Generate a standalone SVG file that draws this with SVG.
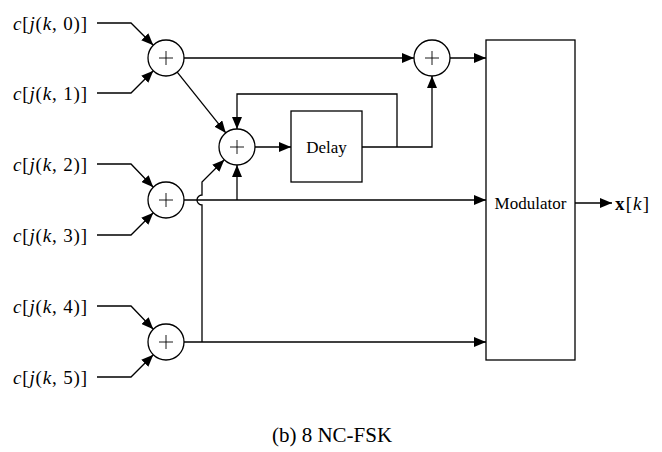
<svg xmlns="http://www.w3.org/2000/svg" width="662" height="452" viewBox="0 0 662 452">
<style>
.w{fill:none;stroke:#000;stroke-width:1.3}
.n{fill:#fff;stroke:#000;stroke-width:1.3}
.p{fill:none;stroke:#000;stroke-width:0.9}
.m{font-family:"Liberation Serif",serif;font-size:19px;fill:#000}
.i{font-style:italic}
.t{font-family:"Liberation Serif",serif;font-size:17px;fill:#000}
.c{font-family:"Liberation Serif",serif;font-size:21px;fill:#000}
</style>
<defs>
<marker id="a" markerUnits="userSpaceOnUse" markerWidth="12" markerHeight="10" refX="12" refY="5" orient="auto">
<path d="M0,0 L12,5 L0,10 z" fill="#000"/>
</marker>
</defs>
<g id="labels">
<text class="m" x="13" y="30" textLength="74" lengthAdjust="spacing"><tspan class="i">c</tspan>[<tspan class="i">j</tspan>(<tspan class="i">k</tspan>, 0)]</text>
<text class="m" x="13" y="100" textLength="74" lengthAdjust="spacing"><tspan class="i">c</tspan>[<tspan class="i">j</tspan>(<tspan class="i">k</tspan>, 1)]</text>
<text class="m" x="13" y="171" textLength="74" lengthAdjust="spacing"><tspan class="i">c</tspan>[<tspan class="i">j</tspan>(<tspan class="i">k</tspan>, 2)]</text>
<text class="m" x="13" y="242" textLength="74" lengthAdjust="spacing"><tspan class="i">c</tspan>[<tspan class="i">j</tspan>(<tspan class="i">k</tspan>, 3)]</text>
<text class="m" x="13" y="313" textLength="74" lengthAdjust="spacing"><tspan class="i">c</tspan>[<tspan class="i">j</tspan>(<tspan class="i">k</tspan>, 4)]</text>
<text class="m" x="13" y="384" textLength="74" lengthAdjust="spacing"><tspan class="i">c</tspan>[<tspan class="i">j</tspan>(<tspan class="i">k</tspan>, 5)]</text>
<text class="m" x="615" y="210" textLength="34" lengthAdjust="spacing"><tspan font-weight="bold">x</tspan>[<tspan class="i">k</tspan>]</text>
<text class="c" x="332" y="442" text-anchor="middle">(b) 8 NC-FSK</text>
</g>
<g id="connectors">
<path class="w" d="M97,23 H131 L153.3,45.3" marker-end="url(#a)"/>
<path class="w" d="M97,93 H131 L153.3,70.7" marker-end="url(#a)"/>
<path class="w" d="M97,164 H131 L153.3,187.3" marker-end="url(#a)"/>
<path class="w" d="M97,235 H131 L153.3,212.7" marker-end="url(#a)"/>
<path class="w" d="M97,306 H131 L153.3,329.3" marker-end="url(#a)"/>
<path class="w" d="M97,377 H131 L153.3,354.7" marker-end="url(#a)"/>
<path class="w" d="M184,58 H414" marker-end="url(#a)"/>
<path class="w" d="M450,58 H486" marker-end="url(#a)"/>
<path class="w" d="M177.2,72.1 L225.8,132.9" marker-end="url(#a)"/>
<path class="w" d="M255,147 H291" marker-end="url(#a)"/>
<path class="w" d="M362,147 H432 V76" marker-end="url(#a)"/>
<path class="w" d="M397,147 V94 H237 V129" marker-end="url(#a)"/>
<path class="w" d="M184,200 H486" marker-end="url(#a)"/>
<path class="w" d="M237,200 V165" marker-end="url(#a)"/>
<path class="w" d="M184,342 H486" marker-end="url(#a)"/>
<path class="w" d="M202,342 V205 A5,5 0 0 1 202,195 V182 L224.3,159.7" marker-end="url(#a)"/>
<path class="w" d="M575,203 H612" marker-end="url(#a)"/>
</g>
<g id="sum1"><circle class="n" cx="166" cy="58" r="18"/><path class="p" d="M159,58 H173 M166,51 V65"/></g>
<g id="sum2"><circle class="n" cx="166" cy="200" r="18"/><path class="p" d="M159,200 H173 M166,193 V207"/></g>
<g id="sum3"><circle class="n" cx="166" cy="342" r="18"/><path class="p" d="M159,342 H173 M166,335 V349"/></g>
<g id="sum4"><circle class="n" cx="237" cy="147" r="18"/><path class="p" d="M230,147 H244 M237,140 V154"/></g>
<g id="sum5"><circle class="n" cx="432" cy="58" r="18"/><path class="p" d="M425,58 H439 M432,51 V65"/></g>
<g id="delay"><rect class="n" x="291" y="111" width="71" height="71"/><text class="t" x="326.5" y="153" text-anchor="middle">Delay</text></g>
<g id="modulator"><rect class="n" x="486" y="40" width="89" height="320"/><text class="t" x="530.5" y="209" text-anchor="middle">Modulator</text></g>
</svg>
